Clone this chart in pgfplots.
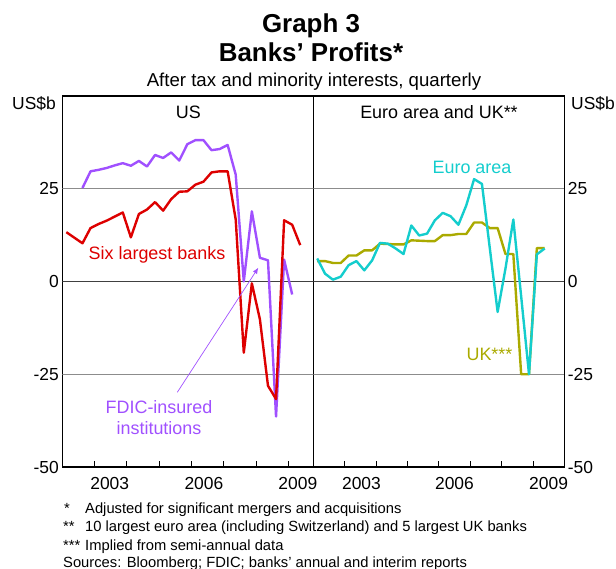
\documentclass[border=0pt]{standalone}
\usepackage{fontspec}
\setmainfont{Liberation Sans}
\usepackage{pgfplots}
\pgfplotsset{compat=1.18}
\usepackage{pgfplotstable}
\usetikzlibrary{arrows.meta}

\definecolor{sixred}{RGB}{221,0,0}
\definecolor{fdic}{RGB}{160,80,255}
\definecolor{euro}{RGB}{20,205,205}
\definecolor{ukol}{RGB}{170,170,0}
\definecolor{gridgray}{RGB}{140,140,140}

% quarterly, US$ billions; x = mid-quarter in decimal years
\pgfplotstableread{
x        six    
2002.125 13.3
2002.375 11.8
2002.625 10.3
2002.875 14.4
2003.125 15.5
2003.375 16.4
2003.625 17.5
2003.875 18.6
2004.125 11.9
2004.375 18.2
2004.625 19.4
2004.875 21.4
2005.125 19.1
2005.375 22.2
2005.625 24.2
2005.875 24.3
2006.125 26.1
2006.375 26.9
2006.625 29.4
2006.875 29.7
2007.125 29.7
2007.375 16.7
2007.625 -19.2
2007.875 -0.5
2008.125 -10.2
2008.375 -28.1
2008.625 -31.7
2008.875 16.5
2009.125 15.3
2009.375 9.8
}\sixtab

\pgfplotstableread{
x        fdic
2002.625 25.2
2002.875 29.7
2003.125 30.1
2003.375 30.6
2003.625 31.3
2003.875 31.9
2004.125 31.2
2004.375 32.5
2004.625 31.0
2004.875 34.1
2005.125 33.3
2005.375 34.8
2005.625 32.6
2005.875 37.0
2006.125 38.1
2006.375 38.1
2006.625 35.4
2006.875 35.7
2007.125 36.8
2007.375 28.8
2007.625 0.0
2007.875 18.9
2008.125 6.4
2008.375 5.7
2008.625 -36.4
2008.875 5.9
2009.125 -3.5
}\fdictab

\pgfplotstableread{
x        euro  uk
2002.125 6.2   5.5
2002.375 2.1   5.5
2002.625 0.5   5.0
2002.875 1.3   5.0
2003.125 4.4   7.0
2003.375 5.5   7.0
2003.625 3.0   8.4
2003.875 5.7   8.4
2004.125 10.4  10.2
2004.375 10.2  10.1
2004.625 8.9   10.0
2004.875 7.4   10.0
2005.125 15.1  11.1
2005.375 12.4  11.0
2005.625 12.9  10.9
2005.875 16.5  10.9
2006.125 18.5  12.5
2006.375 17.6  12.5
2006.625 15.3  12.8
2006.875 20.5  12.8
2007.125 27.6  15.9
2007.375 26.3  15.9
2007.625 9.0   14.4
2007.875 -8.2  14.4
2008.125 3.5   7.4
2008.375 16.7  7.4
2008.625 -4.0  -25.0
2008.875 -25.0 -25.0
2009.125 7.3   9.0
2009.375 8.9   9.0
}\eutab

\begin{document}
\begin{tikzpicture}
\useasboundingbox (0,0) rectangle (616bp,-569bp);
\pgfplotsset{
  panel/.style={
    scale only axis, anchor=south west,
    width=251bp, height=371bp,
    xmin=2002, ymin=-50, ymax=50,
    axis line style={black, line width=1.1pt},
    tick align=inside,
    xtick pos=bottom,
    xtick={2003,...,2009}, xticklabels={},
    major tick length=6bp,
    xtick style={black, line width=0.7pt},
    extra x tick labels={2003,2006,2009},
    extra x tick style={major tick length=0pt},
    xticklabel style={yshift=-7bp},
    ytick={-50,-25,0,25}, yticklabels={-50,-25,0,25},
    ytick style={draw=none},
    tick label style={font=\fontsize{17.5}{20}\selectfont},
    every axis plot/.append style={line width=2.4pt, line join=round, no markers},
  },
}

% ---- US ----
\begin{axis}[panel, at={(62.3bp,-467bp)}, xmax=2009.78,
    extra x ticks={2003.47,2006.39,2009.30}]
  \draw[gridgray, line width=1.1pt] (rel axis cs:0,0.75) -- (rel axis cs:1,0.75);
  \draw[gridgray, line width=1.1pt] (rel axis cs:0,0.25) -- (rel axis cs:1,0.25);
  \draw[black!75, line width=1.6pt] (rel axis cs:0,0.5) -- (rel axis cs:1,0.5);
  \addplot[fdic] table[x=x, y=fdic] {\fdictab};
  \addplot[sixred] table[x=x, y=six] {\sixtab};
\end{axis}

% ---- Euro area and UK ----
\begin{axis}[panel, at={(313.3bp,-467bp)}, xmax=2010, yticklabel pos=right,
    extra x ticks={2003.535,2006.5,2009.5}]
  \draw[gridgray, line width=1.1pt] (rel axis cs:0,0.75) -- (rel axis cs:1,0.75);
  \draw[gridgray, line width=1.1pt] (rel axis cs:0,0.25) -- (rel axis cs:1,0.25);
  \draw[black!75, line width=1.6pt] (rel axis cs:0,0.5) -- (rel axis cs:1,0.5);
  \addplot[ukol] table[x=x, y=uk] {\eutab};
  \addplot[euro] table[x=x, y=euro] {\eutab};
\end{axis}

% titles
\node[anchor=base, font=\fontsize{26}{28}\selectfont\bfseries] at (311bp,-32bp) {Graph 3};
\node[anchor=base, font=\fontsize{26}{28}\selectfont\bfseries] at (311bp,-61bp) {Banks’ Profits*};
\node[anchor=base, font=\fontsize{18.7}{21}\selectfont] at (314bp,-86bp) {After tax and minority interests, quarterly};

% units
\node[anchor=base east, font=\fontsize{17.5}{20}\selectfont, inner sep=0pt] at (56bp,-109bp) {US\$b};
\node[anchor=base west, font=\fontsize{17.5}{20}\selectfont, inner sep=0pt] at (571bp,-109bp) {US\$b};

% panel titles
\node[anchor=base, font=\fontsize{18}{20}\selectfont] at (188.3bp,-118bp) {US};
\node[anchor=base, font=\fontsize{18}{20}\selectfont] at (439bp,-118bp) {Euro area and UK**};

% series labels
\node[anchor=base, font=\fontsize{18}{20}\selectfont, text=sixred] at (157bp,-259bp) {Six largest banks};
\node[anchor=base, font=\fontsize{18}{20}\selectfont, text=fdic] at (159bp,-413bp) {FDIC-insured};
\node[anchor=base, font=\fontsize{18}{20}\selectfont, text=fdic] at (159bp,-434bp) {institutions};
\draw[fdic, line width=0.7pt, -{Latex[length=6bp, width=5bp]}] (177.3bp,-392.3bp) -- (258.3bp,-267.7bp);
\node[anchor=base, font=\fontsize{18}{20}\selectfont, text=euro] at (472bp,-173bp) {Euro area};
\node[anchor=base, font=\fontsize{18}{20}\selectfont, text=ukol] at (489.5bp,-360bp) {UK***};

% footnotes
\begin{scope}[every node/.style={anchor=base west, inner sep=0pt, font=\fontsize{14.8}{16}\selectfont}]
  \node at (64bp,-513bp) {*};
  \node at (85bp,-513bp) {Adjusted for significant mergers and acquisitions};
  \node at (63bp,-531bp) {**};
  \node at (85bp,-531bp) {10 largest euro area (including Switzerland) and 5 largest UK banks};
  \node at (63bp,-550bp) {***};
  \node at (85bp,-550bp) {Implied from semi-annual data};
  \node at (63bp,-567bp) {Sources: Bloomberg; FDIC; banks’ annual and interim reports};
\end{scope}
\end{tikzpicture}
\end{document}
